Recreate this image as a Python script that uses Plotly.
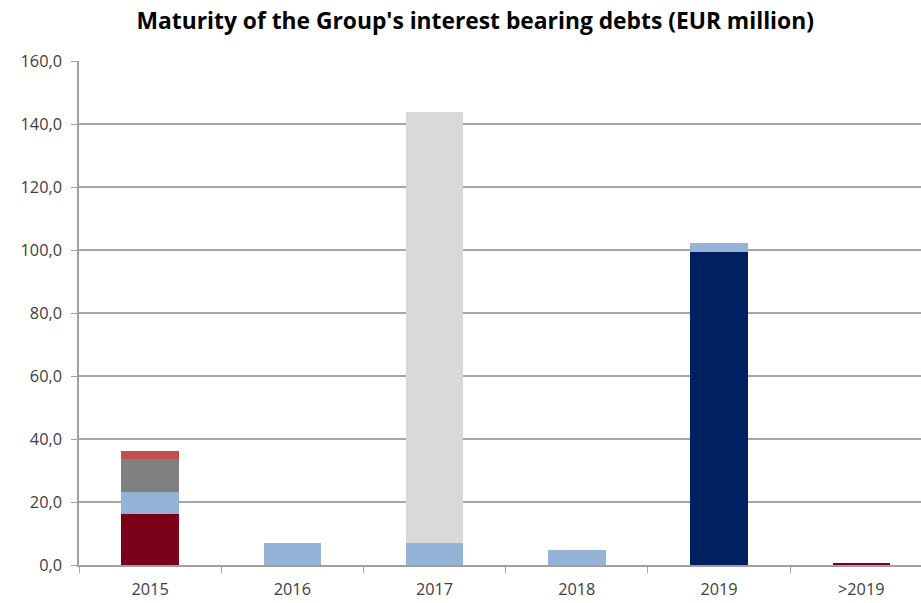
import plotly.graph_objects as go

# Maturity buckets and the debt instruments falling due in each (EUR million)
years = ["2015", "2016", "2017", "2018", "2019", ">2019"]

series_dark_red = [16.1, 0, 0, 0, 0, 0.6]
series_navy = [0, 0, 0, 0, 99.3, 0]
series_light_blue = [7.0, 7.0, 7.1, 4.8, 2.8, 0]
series_gray = [10.6, 0, 0, 0, 0, 0]
series_light_gray = [0, 0, 136.8, 0, 0, 0]
series_red = [2.4, 0, 0, 0, 0, 0]

y_ticks = [0, 20, 40, 60, 80, 100, 120, 140, 160]

stack = [
    (series_dark_red, "#7B0019"),
    (series_navy, "#002060"),
    (series_light_blue, "#95B3D7"),
    (series_gray, "#808080"),
    (series_light_gray, "#D9D9D9"),
    (series_red, "#C0504D"),
]

fig = go.Figure()
for values, color in stack:
    fig.add_trace(go.Bar(
        x=years, y=values, marker=dict(color=color, line=dict(width=0)),
        width=0.404, showlegend=False, hoverinfo="x+y",
    ))

fig.update_layout(
    barmode="stack",
    width=921, height=603,
    margin=dict(l=79, r=0, t=61, b=38),
    paper_bgcolor="white", plot_bgcolor="white",
    separators=",.",
    font=dict(family="Open Sans, sans-serif", size=16.3, color="#404040"),
    title=dict(
        text="<b>Maturity of the Group's interest bearing debts (EUR million)</b>",
        x=0.516, xanchor="center", y=0.965, yanchor="middle",
        font=dict(family="Open Sans, sans-serif", size=22.8, color="#000000"),
    ),
)
fig.update_xaxes(
    type="category", range=[-0.5, 5.42],
    showline=True, linecolor="#A0A0A0", linewidth=1.5,
    ticks="outside", tickson="boundaries", ticklen=6, tickcolor="#A0A0A0",
    showgrid=False, ticklabelstandoff=9,
)
fig.update_yaxes(
    range=[0, 160], tickvals=y_ticks, tickformat=".1f",
    showline=True, linecolor="#A0A0A0", linewidth=1.5,
    ticks="outside", ticklen=6, tickcolor="#A0A0A0",
    showgrid=True, gridcolor="#A6A6A6", gridwidth=1.5,
    zeroline=False, ticklabelstandoff=6,
)

fig.write_html("out.html")
